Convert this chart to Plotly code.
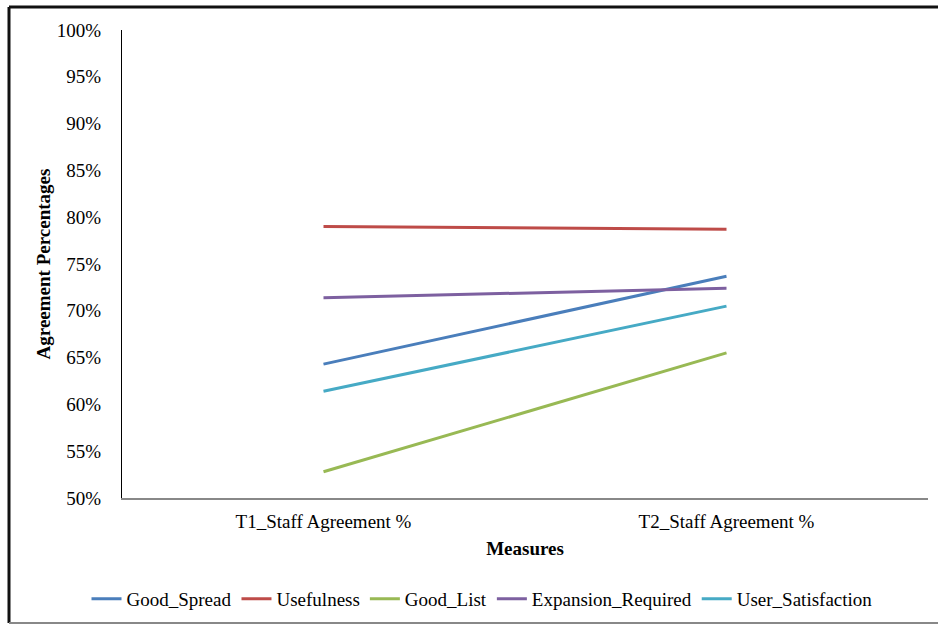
import plotly.graph_objects as go

categories = ["T1_Staff Agreement %", "T2_Staff Agreement %"]
good_spread = [0.643, 0.737]
usefulness = [0.790, 0.787]
good_list = [0.528, 0.655]
expansion_required = [0.714, 0.724]
user_satisfaction = [0.614, 0.705]

series = [
    ("Good_Spread", good_spread, "#4A7EBB"),
    ("Usefulness", usefulness, "#BE4B48"),
    ("Good_List", good_list, "#98B954"),
    ("Expansion_Required", expansion_required, "#7D60A0"),
    ("User_Satisfaction", user_satisfaction, "#46AAC5"),
]

fig = go.Figure()
for name, vals, col in series:
    fig.add_trace(go.Scatter(x=categories, y=vals, name=name, mode="lines",
                             line=dict(color=col, width=3)))

W, H = 938, 626
L, R, T, B = 122, 10, 30, 128
pw, ph = W - L - R, H - T - B

def px(x):
    return (x - L) / pw

def py(y):
    return (H - B - y) / ph

font = "Liberation Serif"
fs = 19
fig.update_layout(
    width=W, height=H,
    margin=dict(l=L, r=R, t=T, b=B, autoexpand=False),
    paper_bgcolor="white", plot_bgcolor="white",
    font=dict(family=font, size=fs, color="black"),
    showlegend=True,
    legend=dict(orientation="h", x=px(482), xanchor="center", y=py(599), yanchor="middle",
                font=dict(family=font, size=fs), itemwidth=30, tracegroupgap=0),
    xaxis=dict(type="category", range=[-0.5, 1.5], showline=True, linecolor="#888888", linewidth=1.5,
               showgrid=False, zeroline=False, ticks="", ticklabelstandoff=5, automargin=False,
               tickfont=dict(family=font, size=fs),
               title=dict(text="<b>Measures</b>", font=dict(family=font, size=fs), standoff=11)),
    yaxis=dict(range=[0.5, 1.0], dtick=0.05, tickformat=".0%", showline=True,
               linecolor="black", linewidth=1, showgrid=False, zeroline=False, automargin=False,
               ticks="", ticklabelstandoff=16, tickfont=dict(family=font, size=fs),
               title=dict(text="<b>Agreement Percentages</b>", font=dict(family=font, size=fs), standoff=1)),
    shapes=[
        dict(type="line", xref="paper", yref="paper", x0=px(9), x1=px(938), y0=py(7), y1=py(7),
             line=dict(color="#111111", width=3)),
        dict(type="line", xref="paper", yref="paper", x0=px(9), x1=px(9), y0=py(7), y1=py(623),
             line=dict(color="#111111", width=3)),
        dict(type="line", xref="paper", yref="paper", x0=px(9), x1=px(938), y0=py(623), y1=py(623),
             line=dict(color="#888888", width=2)),
    ],
)

fig.write_html("out.html", config={"displayModeBar": False},
               post_script="document.body.style.margin='0px';")
